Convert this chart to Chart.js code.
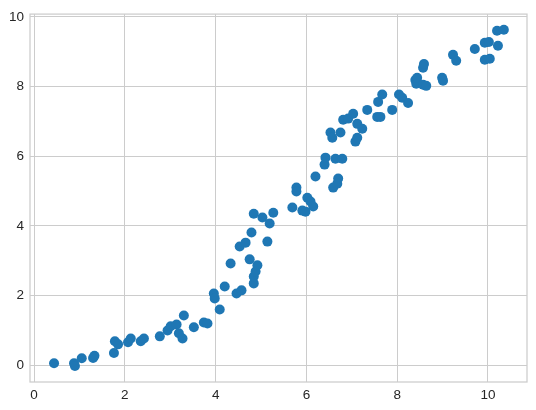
<!DOCTYPE html>
<html>
<head>
<meta charset="utf-8">
<script src="https://cdn.jsdelivr.net/npm/chart.js@4/dist/chart.umd.min.js"></script>
<style>
    body { margin: 0; background: #fff; }
    canvas { display: block; }
</style>
</head>
<body>
<canvas id="scatterChart" width="536" height="410"></canvas>
<script>
// data
var xValues = [0.44, 0.88, 0.90, 1.05, 1.30, 1.33, 1.76, 1.78, 1.85, 2.07,
    2.13, 2.35, 2.42, 2.77, 2.94, 3.01, 3.14, 3.19, 3.27, 3.30,
    3.52, 3.74, 3.82, 3.96, 3.98, 4.09, 4.20, 4.33, 4.46, 4.57,
    4.53, 4.66, 4.79, 4.75, 4.84, 4.84, 4.88, 4.92, 4.84, 5.03,
    5.14, 5.19, 5.27, 5.69, 5.78, 5.78, 5.91, 5.98, 6.02, 6.09,
    6.15, 6.20, 6.40, 6.42, 6.53, 6.57, 6.59, 6.64, 6.70, 6.68,
    6.75, 6.79, 6.81, 6.92, 7.03, 7.12, 7.08, 7.12, 7.23, 7.34,
    7.56, 7.63, 7.58, 7.67, 7.89, 8.04, 8.11, 8.24, 8.40, 8.42,
    8.44, 8.57, 8.64, 8.57, 8.59, 8.99, 9.01, 9.23, 9.30, 9.71,
    9.93, 10.02, 9.93, 10.04, 10.22, 10.20, 10.35];
var yValues = [0.06, 0.06, -0.02, 0.20, 0.21, 0.27, 0.35, 0.69, 0.60, 0.66,
    0.77, 0.69, 0.77, 0.83, 1.00, 1.12, 1.17, 0.92, 0.77, 1.43,
    1.09, 1.23, 1.20, 2.06, 1.92, 1.60, 2.26, 2.92, 2.06, 2.15,
    3.41, 3.52, 3.81, 3.04, 2.35, 2.55, 2.69, 2.87, 4.35, 4.24,
    3.55, 4.07, 4.38, 4.53, 5.10, 4.99, 4.44, 4.41, 4.81, 4.70,
    4.56, 5.42, 5.76, 5.96, 6.68, 6.53, 5.10, 5.93, 5.36, 5.21,
    6.68, 5.93, 7.05, 7.08, 7.22, 6.93, 6.42, 6.53, 6.79, 7.33,
    7.13, 7.13, 7.56, 7.77, 7.33, 7.77, 7.68, 7.53, 8.19, 8.08,
    8.25, 8.05, 8.02, 8.54, 8.65, 8.25, 8.17, 8.91, 8.74, 9.08,
    9.26, 9.28, 8.77, 8.80, 9.17, 9.60, 9.63];
var xTicks = [0, 2, 4, 6, 8, 10];
var yTicks = [0, 2, 4, 6, 8, 10];

var points = xValues.map(function (x, i) {
    return { x: x, y: yValues[i] };
});

var gridColor = '#cccccc';
var textColor = '#262626';

// spine on all four sides, like the matplotlib whitegrid frame
var frame = {
    id: 'frame',
    beforeDatasetsDraw: function (chart) {
        var a = chart.chartArea;
        var ctx = chart.ctx;
        ctx.save();
        ctx.strokeStyle = gridColor;
        ctx.lineWidth = 1.25;
        ctx.strokeRect(a.left, a.top, a.right - a.left, a.bottom - a.top);
        ctx.restore();
    }
};

var scatterChart = new Chart(document.getElementById('scatterChart'), {
    type: 'scatter',
    data: {
        datasets: [{
            data: points,
            backgroundColor: '#1f77b4',
            borderWidth: 0,
            pointRadius: 5,
            pointHoverRadius: 5
        }]
    },
    options: {
        responsive: false,
        animation: false,
        layout: {
            padding: { left: 0, right: 9, top: 12, bottom: 0 }
        },
        plugins: {
            legend: { display: false },
            tooltip: { enabled: false }
        },
        scales: {
            x: {
                type: 'linear',
                min: -0.09,
                max: 10.86,
                afterBuildTicks: function (scale) {
                    scale.ticks = xTicks.map(function (v) { return { value: v }; });
                },
                afterFit: function (scale) { scale.height = 28; },
                grid: { color: gridColor, lineWidth: 1, drawTicks: false },
                border: { display: false },
                ticks: {
                    padding: 5,
                    color: textColor,
                    font: { family: 'Liberation Sans, Arial, sans-serif', size: 13.5 }
                }
            },
            y: {
                type: 'linear',
                min: -0.48,
                max: 10.08,
                afterBuildTicks: function (scale) {
                    scale.ticks = yTicks.map(function (v) { return { value: v }; });
                },
                afterFit: function (scale) { scale.width = 30; },
                grid: { color: gridColor, lineWidth: 1, drawTicks: false },
                border: { display: false },
                ticks: {
                    padding: 6,
                    color: textColor,
                    font: { family: 'Liberation Sans, Arial, sans-serif', size: 13.5 }
                }
            }
        }
    },
    plugins: [frame]
});
</script>
</body>
</html>
